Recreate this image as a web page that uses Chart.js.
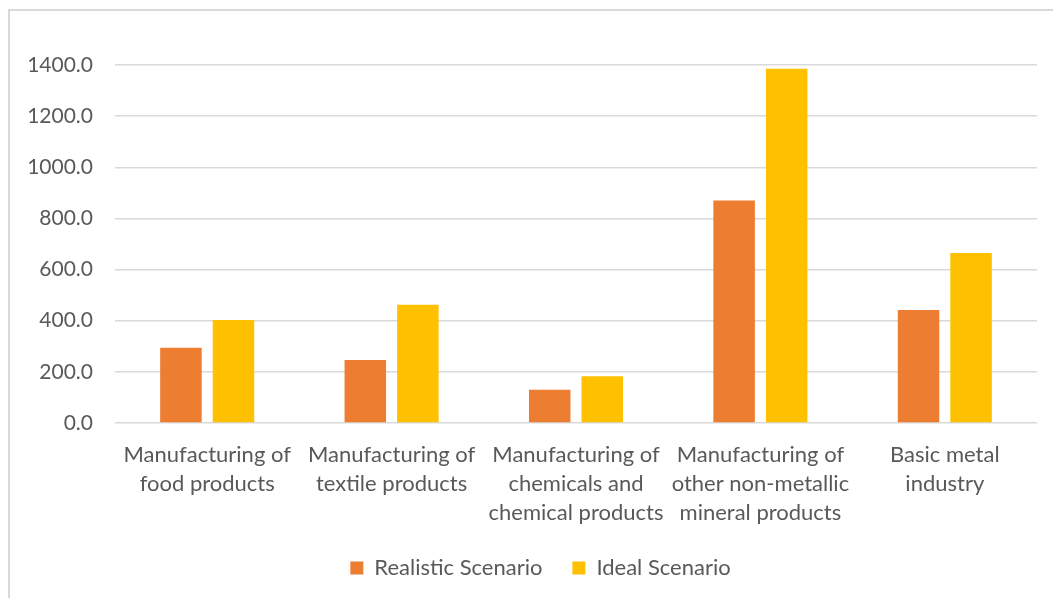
<!DOCTYPE html>
<html>
<head>
<meta charset="utf-8">
<script src="https://cdn.jsdelivr.net/npm/chart.js@4.4.1/dist/chart.umd.min.js"></script>
<style>
  html, body { margin: 0; padding: 0; background: #fff; overflow: hidden; }
  #wrap { position: relative; width: 1053px; height: 598px; }
  #frame { position: absolute; left: 8px; top: 9px; width: 1100px; height: 700px; border: 2px solid #d9d9d9; box-sizing: border-box; }
  #myChart { position: absolute; left: 0; top: 0; }
</style>
</head>
<body>
<div id="wrap">
  <div id="frame"></div>
  <canvas id="myChart" width="1053" height="598"></canvas>
</div>
<script>
const categories = [
    ['Manufacturing of', 'food products'],
    ['Manufacturing of', 'textile products'],
    ['Manufacturing of', 'chemicals and', 'chemical products'],
    ['Manufacturing of', 'other non-metallic', 'mineral products'],
    ['Basic metal', 'industry']
];
const realistic = [294, 246, 130, 870, 442];
const ideal = [403, 462, 183, 1385, 665];
const yTicks = [0, 200, 400, 600, 800, 1000, 1200, 1400];

const textColor = '#595959';
const fontFamily = 'Lato, "Open Sans", sans-serif';

// nudge the legend a bit to the right of the canvas centre
const legendShift = {
    id: 'legendShift',
    afterLayout(chart) {
        chart.legend.left += 22;
        chart.legend.right += 22;
    }
};

const chartElement = document.getElementById('myChart');

new Chart(chartElement, {
    type: 'bar',
    data: {
        labels: categories,
        datasets: [{
            label: 'Realistic Scenario',
            data: realistic,
            backgroundColor: '#ED7D31',
            borderWidth: 0
        }, {
            label: 'Ideal Scenario',
            data: ideal,
            backgroundColor: '#FFC000',
            borderWidth: 0
        }]
    },
    plugins: [legendShift],
    options: {
        responsive: false,
        animation: false,
        devicePixelRatio: 1,
        categoryPercentage: 0.57,
        barPercentage: 0.79,
        layout: {
            padding: { top: 65, right: 16, bottom: 9, left: 0 }
        },
        plugins: {
            tooltip: { enabled: false },
            legend: {
                position: 'bottom',
                labels: {
                    boxWidth: 13,
                    boxHeight: 13,
                    padding: 30,
                    color: textColor,
                    font: { family: fontFamily, size: 22 }
                }
            }
        },
        scales: {
            x: {
                grid: { display: false },
                border: { display: false },
                ticks: {
                    color: textColor,
                    padding: 9,
                    maxRotation: 0,
                    autoSkip: false,
                    font: { family: fontFamily, size: 22, lineHeight: 1.32 }
                },
                afterFit: (scale) => { scale.height = 104; }
            },
            y: {
                min: 0,
                max: 1400,
                afterBuildTicks: (scale) => { scale.ticks = yTicks.map(v => ({ value: v })); },
                grid: { color: '#d9d9d9', lineWidth: 1.5, drawTicks: false },
                border: { display: false },
                ticks: {
                    color: textColor,
                    padding: 22,
                    font: { family: fontFamily, size: 21 },
                    callback: (v) => v.toFixed(1)
                },
                afterFit: (scale) => { scale.width = 115; }
            }
        }
    }
});
</script>
</body>
</html>
